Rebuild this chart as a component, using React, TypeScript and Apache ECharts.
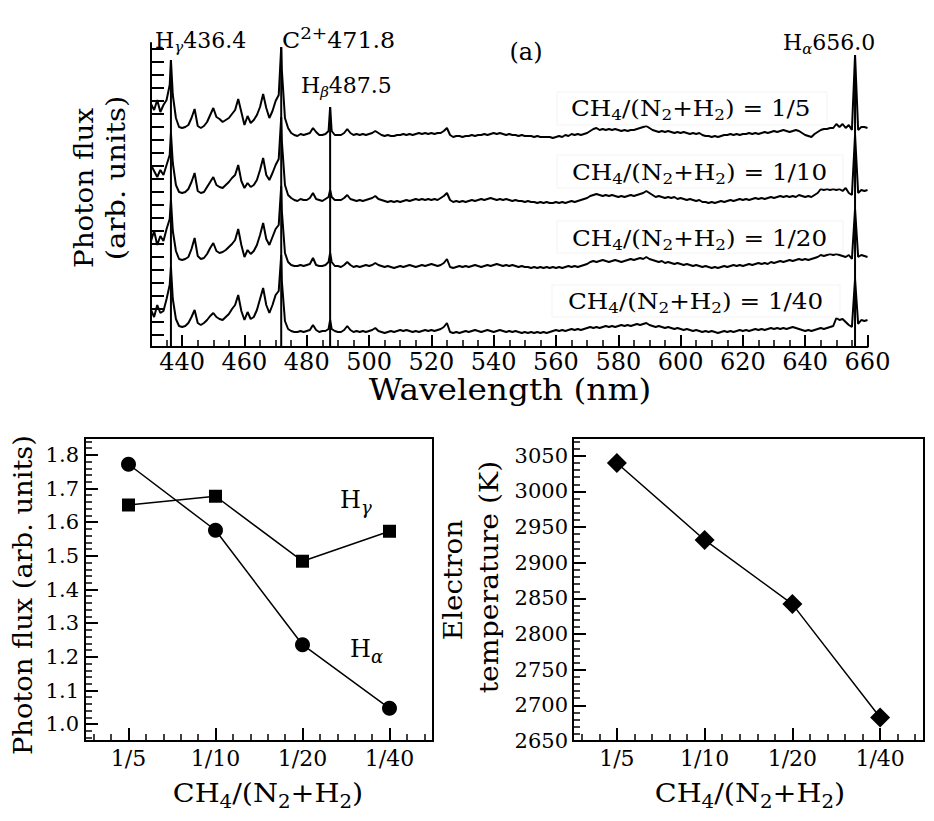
import React, { useEffect, useRef } from 'react';
import * as echarts from 'echarts';

// ---------------- Panel (a): emission spectra ----------------
const WAVELENGTHS = [
  430, 431, 432, 433, 434, 435, 436, 436.4,
  437, 438, 439, 440, 441, 442, 443, 444, 445, 446,
  447, 448, 449, 450, 451, 452, 453, 454, 455, 456,
  457, 458, 459, 460, 461, 462, 463, 464, 465, 466,
  467, 468, 469, 470, 471, 471.8, 472, 473, 474, 475,
  476, 477, 478, 479, 480, 481, 482, 483, 484, 485,
  486, 487, 487.5, 488, 489, 490,
  491, 492, 493, 494, 495, 496, 497, 498, 499, 500,
  501, 502, 503, 504, 505, 506, 507, 508, 509, 510,
  511, 512, 513, 514, 515, 516, 517, 518, 519, 520,
  521, 522, 523, 524, 525, 526, 527, 528, 529, 530,
  531, 532, 533, 534, 535, 536, 537, 538, 539, 540,
  541, 542, 543, 544, 545, 546, 547, 548, 549, 550,
  551, 552, 553, 554, 555, 556, 557, 558, 559, 560,
  561, 562, 563, 564, 565, 566, 567, 568, 569, 570,
  571, 572, 573, 574, 575, 576, 577, 578, 579, 580,
  581, 582, 583, 584, 585, 586, 587, 588, 589, 590,
  591, 592, 593, 594, 595, 596, 597, 598, 599, 600,
  601, 602, 603, 604, 605, 606, 607, 608, 609, 610,
  611, 612, 613, 614, 615, 616, 617, 618, 619, 620,
  621, 622, 623, 624, 625, 626, 627, 628, 629, 630,
  631, 632, 633, 634, 635, 636, 637, 638, 639, 640,
  641, 642, 643, 644, 645, 646, 647, 648, 649, 650,
  651, 652, 653, 654, 655, 656, 657, 658, 659, 660,
];

const FLUX_1_5 = [
  45, 39, 49, 37, 44, 49, 64, 89,
  54, 31, 22, 21, 22, 24, 31, 40, 23, 21,
  23, 27, 34, 41, 32, 30, 27, 29, 31, 35,
  39, 50, 37, 24, 33, 26, 29, 34, 42, 55,
  41, 31, 38, 48, 54, 102, 79, 31, 21, 16,
  14, 13, 15, 14, 15, 16, 21, 17, 14, 14,
  15, 18, 42, 18, 14, 14,
  14, 16, 20, 16, 14, 15, 14, 15, 14, 15,
  16, 18, 16, 14, 13, 14, 13, 13, 14, 14,
  15, 14, 15, 14, 15, 16, 15, 16, 15, 16,
  15, 16, 16, 18, 21, 14, 12, 13, 13, 12,
  13, 13, 14, 13, 14, 14, 15, 14, 15, 16,
  15, 16, 15, 14, 15, 14, 14, 13, 14, 13,
  13, 13, 12, 13, 12, 12, 12, 12, 11, 12,
  13, 12, 14, 13, 15, 14, 15, 14, 15, 16,
  18, 20, 21, 19, 20, 19, 20, 19, 20, 19,
  18, 19, 18, 19, 19, 20, 21, 22, 23, 21,
  19, 18, 17, 18, 17, 18, 17, 16, 17, 16,
  17, 16, 15, 16, 15, 16, 14, 13, 13, 12,
  13, 12, 13, 14, 14, 15, 14, 15, 14, 15,
  15, 16, 15, 16, 15, 16, 17, 16, 17, 18,
  17, 18, 19, 18, 17, 18, 19, 18, 16, 14,
  13, 12, 15, 17, 19, 20, 20, 21, 21, 25,
  22, 25, 21, 24, 19, 94, 19, 22, 22, 21,
];

const FLUX_1_10 = [
  50, 44, 38, 45, 40, 50, 60, 82,
  52, 30, 23, 22, 23, 26, 33, 42, 24, 22,
  23, 28, 33, 38, 30, 28, 27, 30, 33, 37,
  40, 50, 34, 27, 32, 28, 30, 35, 45, 57,
  40, 35, 42, 50, 56, 98, 74, 30, 20, 17,
  15, 14, 16, 15, 15, 17, 22, 16, 15, 14,
  16, 18, 25, 18, 15, 15,
  15, 17, 20, 16, 15, 14, 15, 14, 15, 16,
  17, 19, 16, 15, 14, 13, 14, 13, 14, 13,
  14, 15, 14, 15, 16, 15, 16, 15, 16, 15,
  16, 15, 17, 19, 22, 15, 13, 14, 13, 14,
  13, 14, 15, 14, 15, 16, 15, 16, 17, 16,
  15, 16, 15, 16, 15, 14, 15, 14, 14, 13,
  14, 13, 13, 12, 13, 12, 13, 12, 12, 13,
  12, 13, 12, 13, 14, 13, 14, 15, 16, 17,
  19, 20, 21, 20, 19, 20, 19, 20, 19, 18,
  19, 18, 19, 20, 19, 20, 21, 22, 24, 22,
  20, 18, 19, 18, 17, 18, 17, 18, 16, 17,
  16, 15, 16, 15, 14, 15, 13, 13, 12, 13,
  12, 13, 14, 13, 14, 15, 14, 15, 16, 15,
  16, 15, 16, 17, 16, 17, 16, 17, 18, 17,
  18, 19, 18, 19, 18, 19, 18, 20, 19, 18,
  19, 18, 20, 22, 26, 25, 26, 25, 26, 25,
  26, 24, 27, 22, 20, 80, 22, 25, 24, 25,
];

const FLUX_1_20 = [
  40, 50, 36, 45, 40, 52, 62, 81,
  50, 30, 22, 21, 22, 24, 32, 43, 25, 22,
  23, 27, 33, 38, 30, 28, 29, 31, 34, 37,
  41, 52, 36, 24, 31, 27, 30, 36, 46, 58,
  42, 36, 44, 52, 56, 95, 70, 28, 19, 16,
  15, 15, 16, 15, 16, 17, 23, 16, 15, 15,
  16, 19, 28, 19, 15, 15,
  14, 16, 19, 16, 14, 15, 14, 15, 16, 15,
  16, 18, 16, 15, 14, 15, 14, 13, 14, 15,
  14, 15, 16, 15, 14, 15, 16, 15, 16, 17,
  16, 15, 16, 18, 22, 14, 13, 14, 15, 14,
  15, 14, 15, 16, 15, 14, 15, 16, 15, 16,
  17, 16, 15, 16, 15, 16, 15, 14, 15, 14,
  14, 13, 14, 13, 14, 13, 14, 13, 14, 13,
  14, 13, 14, 15, 14, 15, 14, 15, 16, 17,
  19, 20, 19, 20, 21, 20, 19, 20, 21, 20,
  19, 20, 21, 22, 21, 22, 23, 22, 24, 22,
  21, 20, 19, 20, 18, 19, 18, 17, 18, 17,
  16, 17, 16, 15, 16, 15, 14, 15, 14, 13,
  14, 13, 14, 15, 14, 15, 16, 15, 16, 15,
  16, 17, 16, 17, 18, 17, 18, 17, 19, 18,
  19, 20, 19, 20, 21, 20, 21, 22, 21, 22,
  21, 22, 23, 24, 26, 25, 26, 27, 26, 27,
  26, 25, 24, 26, 22, 72, 24, 26, 25, 24,
];

const FLUX_1_40 = [
  37, 30, 42, 34, 36, 48, 62, 80,
  48, 28, 21, 20, 21, 24, 30, 37, 24, 22,
  24, 27, 31, 34, 30, 28, 27, 30, 33, 38,
  42, 52, 36, 27, 35, 28, 30, 37, 48, 59,
  42, 34, 42, 52, 56, 92, 66, 26, 18, 16,
  15, 15, 16, 15, 16, 17, 22, 17, 15, 16,
  16, 18, 27, 18, 16, 15,
  15, 17, 21, 17, 15, 16, 15, 16, 15, 16,
  17, 19, 16, 15, 14, 15, 16, 15, 16, 17,
  16, 17, 16, 15, 16, 15, 16, 17, 16, 17,
  16, 17, 18, 20, 24, 15, 14, 15, 14, 15,
  16, 15, 16, 17, 16, 15, 16, 17, 16, 15,
  16, 17, 16, 15, 16, 15, 16, 15, 14, 15,
  14, 15, 14, 15, 14, 15, 14, 15, 16, 17,
  16, 17, 16, 17, 18, 17, 18, 17, 18, 19,
  20, 19, 20, 19, 20, 21, 20, 21, 20, 21,
  22, 21, 22, 21, 22, 23, 22, 23, 24, 22,
  21, 20, 21, 20, 19, 20, 19, 18, 19, 18,
  17, 18, 17, 16, 17, 16, 15, 16, 15, 16,
  15, 14, 15, 16, 15, 16, 15, 16, 17, 16,
  17, 16, 17, 18, 17, 18, 17, 18, 19, 18,
  19, 18, 19, 18, 19, 20, 19, 18, 17, 16,
  17, 16, 17, 18, 19, 18, 19, 20, 21, 29,
  27, 28, 25, 22, 20, 68, 23, 27, 26, 27,
];

const TRACES = [FLUX_1_5, FLUX_1_10, FLUX_1_20, FLUX_1_40];
const TRACE_OFFSETS = [198, 132, 66, 0];
const PEAK_LINES = [436.4, 471.8, 487.5, 656.0];

const X_MAJOR_TICKS = [440, 460, 480, 500, 520, 540, 560, 580, 600, 620, 640, 660];
const X_MINOR_TICKS = [
  430, 435, 445, 450, 455, 465, 470, 475, 485, 490, 495, 505, 510, 515,
  525, 530, 535, 545, 550, 555, 565, 570, 575, 585, 590, 595, 605, 610, 615,
  625, 630, 635, 645, 650, 655,
];
const Y_TICKS_SPECTRA = [
  12, 25, 38, 51, 64, 77, 90, 103, 116, 129, 142, 155,
  168, 181, 194, 207, 220, 233, 246, 259, 272, 285, 298,
];

// ---------------- Panels (b), (c) ----------------
const RATIOS = ['1/5', '1/10', '1/20', '1/40'];
const RATIO_POS = [1, 2, 3, 4];
const H_ALPHA_FLUX = [1.772, 1.576, 1.236, 1.047];
const H_GAMMA_FLUX = [1.651, 1.677, 1.484, 1.573];
const ELECTRON_TEMP = [3040, 2932, 2842, 2683];

const RATIO_MINOR_TICKS = [0.6, 0.8, 1.2, 1.4, 1.6, 1.8, 2.2, 2.4, 2.6, 2.8, 3.2, 3.4, 3.6, 3.8, 4.2, 4.4];
const FLUX_MAJOR_TICKS = [1.0, 1.1, 1.2, 1.3, 1.4, 1.5, 1.6, 1.7, 1.8];
const FLUX_MINOR_TICKS = [
  0.96, 0.98, 1.02, 1.04, 1.06, 1.08, 1.12, 1.14, 1.16, 1.18, 1.22, 1.24, 1.26, 1.28,
  1.32, 1.34, 1.36, 1.38, 1.42, 1.44, 1.46, 1.48, 1.52, 1.54, 1.56, 1.58,
  1.62, 1.64, 1.66, 1.68, 1.72, 1.74, 1.76, 1.78, 1.82, 1.84,
];
const TEMP_MAJOR_TICKS = [2650, 2700, 2750, 2800, 2850, 2900, 2950, 3000, 3050];
const TEMP_MINOR_TICKS = [
  2660, 2670, 2680, 2690, 2710, 2720, 2730, 2740, 2760, 2770, 2780, 2790,
  2810, 2820, 2830, 2840, 2860, 2870, 2880, 2890, 2910, 2920, 2930, 2940,
  2960, 2970, 2980, 2990, 3010, 3020, 3030, 3040, 3060, 3070,
];

const FONT = 'DejaVu Serif';
const BLACK = '#000';

function richStyles(fs: number, sfs: number, shift: number) {
  const lh = fs + 12;
  return {
    m: { fontFamily: FONT, fontSize: fs, lineHeight: lh, fill: BLACK, verticalAlign: 'middle' },
    s: { fontFamily: FONT, fontSize: sfs, lineHeight: lh, fill: BLACK, verticalAlign: 'middle', padding: [shift, 0, 0, 0] },
    g: { fontFamily: FONT, fontStyle: 'italic', fontSize: sfs, lineHeight: lh, fill: BLACK, verticalAlign: 'middle', padding: [shift, 0, 0, 0] },
    p: { fontFamily: FONT, fontSize: sfs, lineHeight: lh, fill: BLACK, verticalAlign: 'middle', padding: [0, 0, shift + 2, 0] },
  };
}

function richText(text: string, x: number, y: number, fs: number, sfs: number, shift: number, opts: any = {}) {
  return {
    type: 'text',
    x,
    y,
    scaleX: opts.scaleX ?? 1,
    rotation: opts.rotation ?? 0,
    z: 100,
    style: {
      text,
      rich: richStyles(fs, sfs, shift),
      fontFamily: FONT,
      fontSize: fs,
      fill: BLACK,
      align: opts.align ?? 'left',
      verticalAlign: 'middle',
    },
  };
}

// single-token rich text so that font handling matches the annotations
function plainText(text: string, x: number, y: number, fs: number, opts: any = {}) {
  return {
    type: 'text',
    x,
    y,
    scaleX: opts.scaleX ?? 1,
    rotation: opts.rotation ?? 0,
    z: 100,
    style: {
      text: `{m|${text}}`,
      rich: { m: { fontFamily: FONT, fontSize: fs, fill: BLACK, lineHeight: fs + 8 } },
      fontFamily: FONT,
      fontSize: fs,
      fill: BLACK,
      align: opts.align ?? 'center',
      verticalAlign: 'middle',
    },
  };
}

const CH4_LABEL = (r: string) => `{m|CH}{s|4}{m|/(N}{s|2}{m|+H}{s|2}{m|) = ${r}}`;

export default function App() {
  const ref = useRef<HTMLDivElement>(null);

  useEffect(() => {
    document.body.style.margin = '0';
    const chart = echarts.init(ref.current!, null, { renderer: 'svg' });

    const spectraSeries = TRACES.map((trace, ti) => ({
      type: 'line',
      xAxisIndex: 0,
      yAxisIndex: 0,
      showSymbol: false,
      symbol: 'none',
      lineStyle: { color: BLACK, width: 2 },
      data: WAVELENGTHS.map((w, i) => [w, trace[i] + TRACE_OFFSETS[ti]]),
      z: 3,
    }));

    const markerSeries = PEAK_LINES.map((w) => {
      const idx = WAVELENGTHS.indexOf(w);
      return {
        type: 'line',
        xAxisIndex: 0,
        yAxisIndex: 0,
        showSymbol: false,
        symbol: 'none',
        lineStyle: { color: BLACK, width: 2 },
        data: [[w, 0], [w, FLUX_1_5[idx] + TRACE_OFFSETS[0]]],
        z: 4,
      };
    });

    const tickLine = { color: BLACK, width: 2 };
    const minorLine = { color: BLACK, width: 1.5 };
    const axisLine = { show: true, lineStyle: { color: BLACK, width: 2 } };
    const labelStyle = (fs: number, margin: number) => ({ fontFamily: FONT, fontSize: fs, color: BLACK, margin });

    const option: any = {
      animation: false,
      backgroundColor: '#ffffff',
      textStyle: { fontFamily: FONT },
      grid: [
        { left: 151, top: 43, width: 716.5, height: 304, show: false },
        { left: 85, top: 438, width: 348, height: 303, show: true, borderColor: BLACK, borderWidth: 2, backgroundColor: 'transparent' },
        { left: 573, top: 438, width: 351, height: 303, show: true, borderColor: BLACK, borderWidth: 2, backgroundColor: 'transparent' },
      ],
      xAxis: [
        {
          gridIndex: 0, type: 'value', min: 430, max: 660, position: 'bottom',
          axisLine,
          axisTick: { show: true, inside: true, length: 12, customValues: X_MAJOR_TICKS, lineStyle: tickLine },
          axisLabel: { ...labelStyle(24, 3), customValues: X_MAJOR_TICKS },
          splitLine: { show: false },
        },
        {
          gridIndex: 0, type: 'value', min: 430, max: 660, position: 'bottom',
          axisLine: { show: false },
          axisTick: { show: true, inside: true, length: 7, customValues: X_MINOR_TICKS, lineStyle: minorLine },
          axisLabel: { show: false },
          splitLine: { show: false },
        },
        {
          gridIndex: 1, type: 'value', min: 0.5, max: 4.5, position: 'bottom',
          axisLine,
          axisTick: { show: true, inside: true, length: 13, customValues: RATIO_POS, lineStyle: tickLine },
          axisLabel: {
            ...labelStyle(22, 6), customValues: RATIO_POS,
            formatter: (v: number) => RATIOS[RATIO_POS.indexOf(v)] ?? '',
          },
          splitLine: { show: false },
        },
        {
          gridIndex: 1, type: 'value', min: 0.5, max: 4.5, position: 'bottom',
          axisLine: { show: false },
          axisTick: { show: true, inside: true, length: 7, customValues: RATIO_MINOR_TICKS, lineStyle: minorLine },
          axisLabel: { show: false },
          splitLine: { show: false },
        },
        {
          gridIndex: 2, type: 'value', min: 0.5, max: 4.5, position: 'bottom',
          axisLine,
          axisTick: { show: true, inside: true, length: 13, customValues: RATIO_POS, lineStyle: tickLine },
          axisLabel: {
            ...labelStyle(22, 6), customValues: RATIO_POS,
            formatter: (v: number) => RATIOS[RATIO_POS.indexOf(v)] ?? '',
          },
          splitLine: { show: false },
        },
        {
          gridIndex: 2, type: 'value', min: 0.5, max: 4.5, position: 'bottom',
          axisLine: { show: false },
          axisTick: { show: true, inside: true, length: 7, customValues: RATIO_MINOR_TICKS, lineStyle: minorLine },
          axisLabel: { show: false },
          splitLine: { show: false },
        },
      ],
      yAxis: [
        {
          gridIndex: 0, type: 'value', min: 0, max: 304, position: 'left',
          axisLine,
          axisTick: { show: true, inside: true, length: 13, customValues: Y_TICKS_SPECTRA, lineStyle: tickLine },
          axisLabel: { show: false },
          splitLine: { show: false },
        },
        {
          gridIndex: 1, type: 'value', min: 0.95, max: 1.85, position: 'left',
          axisLine,
          axisTick: { show: true, inside: true, length: 13, customValues: FLUX_MAJOR_TICKS, lineStyle: tickLine },
          axisLabel: {
            ...labelStyle(21, 6), customValues: FLUX_MAJOR_TICKS,
            formatter: (v: number) => v.toFixed(1),
          },
          splitLine: { show: false },
        },
        {
          gridIndex: 1, type: 'value', min: 0.95, max: 1.85, position: 'left',
          axisLine: { show: false },
          axisTick: { show: true, inside: true, length: 7, customValues: FLUX_MINOR_TICKS, lineStyle: minorLine },
          axisLabel: { show: false },
          splitLine: { show: false },
        },
        {
          gridIndex: 2, type: 'value', min: 2650, max: 3075, position: 'left',
          axisLine,
          axisTick: { show: true, inside: true, length: 13, customValues: TEMP_MAJOR_TICKS, lineStyle: tickLine },
          axisLabel: { ...labelStyle(21, 5), customValues: TEMP_MAJOR_TICKS, formatter: (v: number) => String(v) },
          splitLine: { show: false },
        },
        {
          gridIndex: 2, type: 'value', min: 2650, max: 3075, position: 'left',
          axisLine: { show: false },
          axisTick: { show: true, inside: true, length: 7, customValues: TEMP_MINOR_TICKS, lineStyle: minorLine },
          axisLabel: { show: false },
          splitLine: { show: false },
        },
      ],
      series: [
        ...spectraSeries,
        ...markerSeries,
        {
          type: 'line', xAxisIndex: 2, yAxisIndex: 1,
          symbol: 'circle', symbolSize: 15,
          itemStyle: { color: BLACK }, lineStyle: { color: BLACK, width: 1.5 },
          data: RATIO_POS.map((p, i) => [p, H_ALPHA_FLUX[i]]),
        },
        {
          type: 'line', xAxisIndex: 2, yAxisIndex: 1,
          symbol: 'rect', symbolSize: 13,
          itemStyle: { color: BLACK }, lineStyle: { color: BLACK, width: 1.5 },
          data: RATIO_POS.map((p, i) => [p, H_GAMMA_FLUX[i]]),
        },
        {
          type: 'line', xAxisIndex: 4, yAxisIndex: 3,
          symbol: 'diamond', symbolSize: 20,
          itemStyle: { color: BLACK }, lineStyle: { color: BLACK, width: 1.5 },
          data: RATIO_POS.map((p, i) => [p, ELECTRON_TEMP[i]]),
        },
      ],
      graphic: [
        // label boxes
        { type: 'rect', shape: { x: 557, y: 92, width: 270, height: 33 }, style: { fill: 'none', stroke: '#f3f3f3', lineWidth: 1 }, z: 90 },
        { type: 'rect', shape: { x: 557, y: 155, width: 286, height: 33 }, style: { fill: 'none', stroke: '#f3f3f3', lineWidth: 1 }, z: 90 },
        { type: 'rect', shape: { x: 557, y: 221, width: 286, height: 32 }, style: { fill: 'none', stroke: '#f3f3f3', lineWidth: 1 }, z: 90 },
        { type: 'rect', shape: { x: 552, y: 285, width: 288, height: 32 }, style: { fill: 'none', stroke: '#f3f3f3', lineWidth: 1 }, z: 90 },
        // peak annotations
        richText('{m|H}{g|γ}{m|436.4}', 155, 40, 22, 15, 14),
        richText('{m|C}{p|2+}{m|471.8}', 282, 40, 22, 17, 12, { scaleX: 1.08 }),
        richText('{m|H}{g|β}{m|487.5}', 301, 85, 22, 15, 14),
        richText('{m|H}{g|α}{m|656.0}', 783, 42, 22, 15, 14),
        plainText('(a)', 526, 52, 24),
        // ratio labels
        richText(CH4_LABEL('1/5'), 571, 108, 22, 15, 14, { scaleX: 1.12 }),
        richText(CH4_LABEL('1/10'), 572, 172, 22, 15, 14, { scaleX: 1.12 }),
        richText(CH4_LABEL('1/20'), 572, 238, 22, 15, 14, { scaleX: 1.12 }),
        richText(CH4_LABEL('1/40'), 568, 301, 22, 15, 14, { scaleX: 1.12 }),
        // axis titles (top)
        plainText('Wavelength (nm)', 510, 390, 29, { scaleX: 1.13 }),
        plainText('Photon flux', 84, 188, 26, { rotation: Math.PI / 2, scaleX: 1.07 }),
        plainText('(arb. units)', 116, 178, 26, { rotation: Math.PI / 2, scaleX: 1.12 }),
        // bottom left
        richText('{m|H}{g|γ}', 340, 500, 24, 18, 14),
        richText('{m|H}{g|α}', 350, 649, 24, 18, 14),
        richText('{m|CH}{s|4}{m|/(N}{s|2}{m|+H}{s|2}{m|)}', 268, 793, 26, 18, 16, { align: 'center', scaleX: 1.1 }),
        plainText('Photon flux (arb. units)', 23, 595, 26, { rotation: Math.PI / 2, scaleX: 1.05 }),
        // bottom right
        richText('{m|CH}{s|4}{m|/(N}{s|2}{m|+H}{s|2}{m|)}', 750, 793, 26, 18, 16, { align: 'center', scaleX: 1.1 }),
        plainText('Electron', 453, 580, 26, { rotation: Math.PI / 2, scaleX: 1.07 }),
        plainText('temperature (K)', 489, 577, 26, { rotation: Math.PI / 2, scaleX: 1.09 }),
      ],
    };

    chart.setOption(option);
    return () => chart.dispose();
  }, []);

  return <div ref={ref} style={{ width: 934, height: 821, overflow: 'hidden' }} />;
}
